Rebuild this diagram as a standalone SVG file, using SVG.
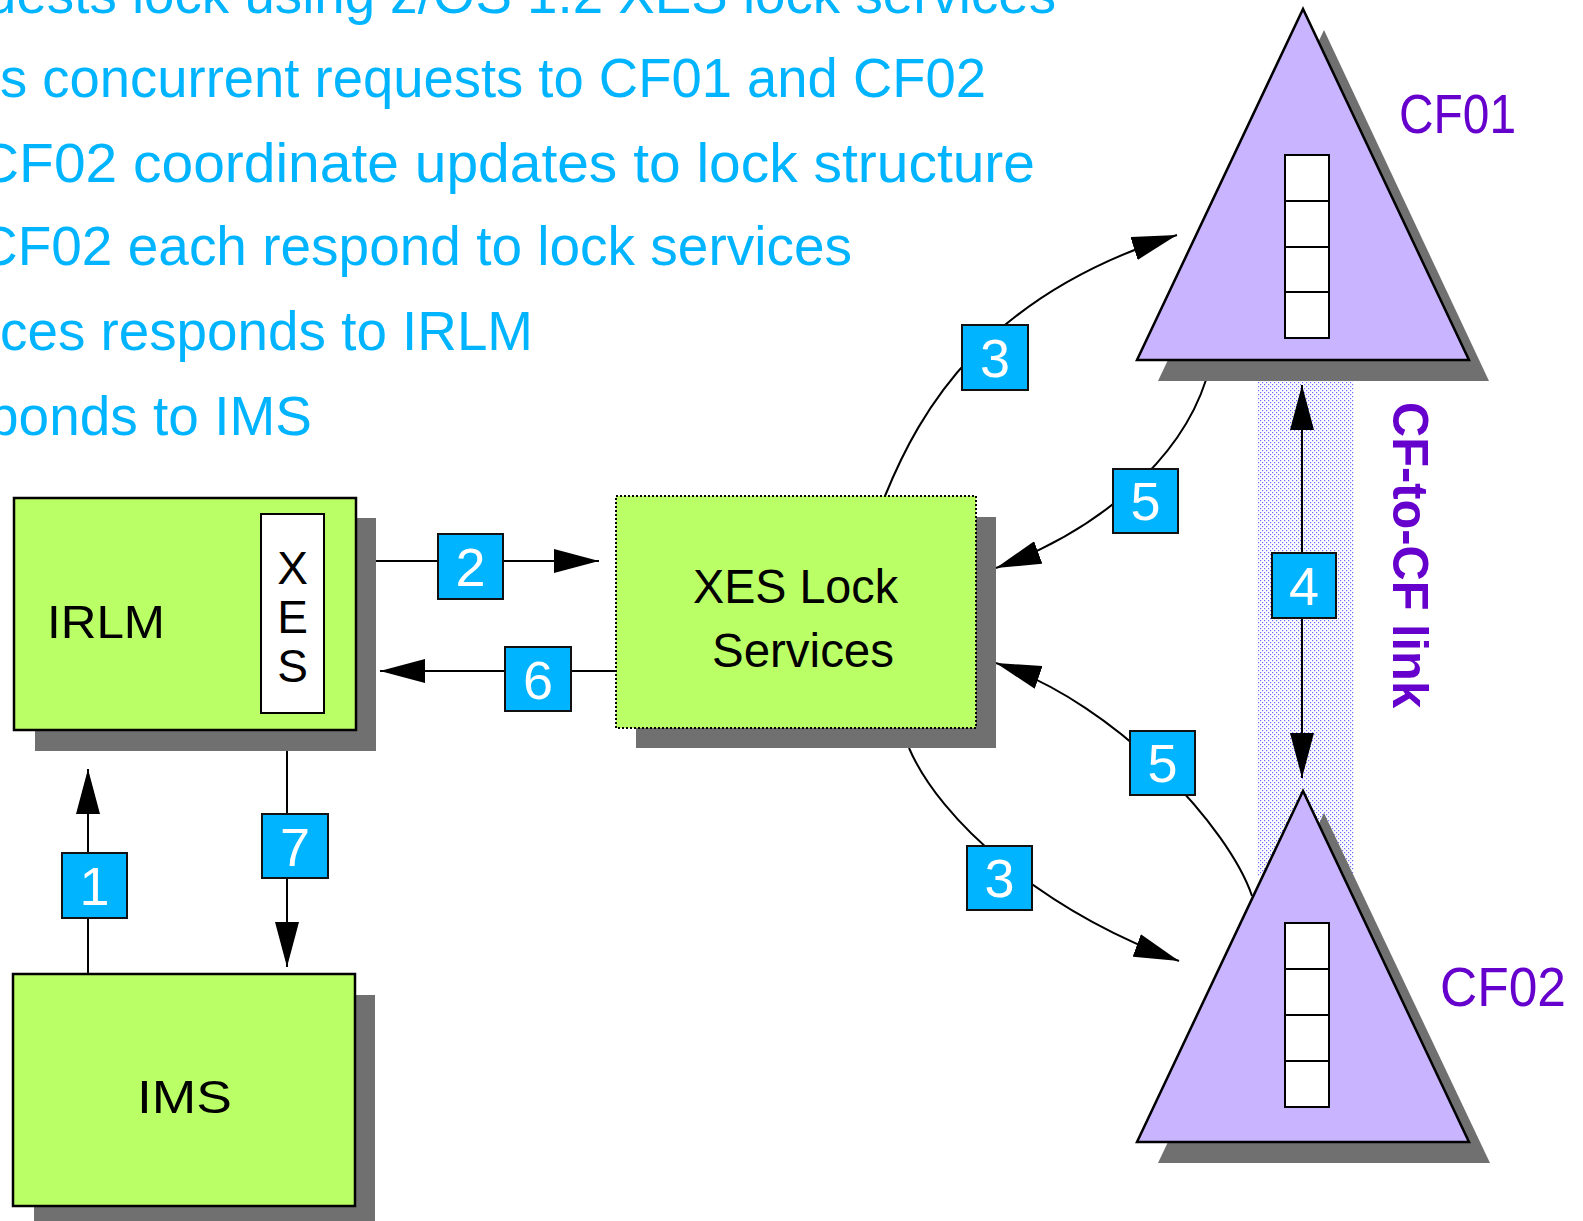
<svg xmlns="http://www.w3.org/2000/svg" width="1583" height="1221" viewBox="0 0 1583 1221">
<defs>
<style>
.note{font-family:"Liberation Sans",Arial,sans-serif;font-size:56px;fill:#00b4ff}
.lbl{font-family:"Liberation Sans",Arial,sans-serif;fill:#000}
.cf{font-family:"Liberation Sans",Arial,sans-serif;font-size:56px;fill:#6600cc}
.num{font-family:"Liberation Sans",Arial,sans-serif;font-size:54px;fill:#fff;text-anchor:middle}
.xes{font-family:"Liberation Sans",Arial,sans-serif;font-size:46px;fill:#000;text-anchor:middle}
.box{fill:#bbff66;stroke:#000;stroke-width:2.5}
.shadow{fill:#707070}
.tri{fill:#c8b4ff;stroke:#000;stroke-width:2.5;stroke-linejoin:miter}
.cell{fill:#fff;stroke:#000;stroke-width:2}
.tag{fill:#00b4ff;stroke:#111;stroke-width:2}
.wire{fill:none;stroke:#000;stroke-width:2}
</style>
<marker id="ah" markerUnits="userSpaceOnUse" markerWidth="46" markerHeight="24" refX="45" refY="12" orient="auto-start-reverse">
<path d="M0,0 L45,12 L0,24 z" fill="#000"/>
</marker>
<pattern id="dots" width="4" height="4" patternUnits="userSpaceOnUse">
<rect width="4" height="4" fill="#fff"/>
<rect x="0" y="0" width="1.2" height="1.2" fill="#6a6aff"/>
<rect x="2" y="2" width="1.2" height="1.2" fill="#6a6aff"/>
</pattern>
</defs>
<rect width="1583" height="1221" fill="#fff"/>

<g id="notes">
<text class="note" x="-14" y="13" textLength="1070" lengthAdjust="spacingAndGlyphs">uests lock using z/OS 1.2 XES lock services</text>
<text class="note" x="0" y="97" textLength="986" lengthAdjust="spacingAndGlyphs">s concurrent requests to CF01 and CF02</text>
<text class="note" x="-22" y="182" textLength="1057" lengthAdjust="spacingAndGlyphs">CF02 coordinate updates to lock structure</text>
<text class="note" x="-22" y="265" textLength="874" lengthAdjust="spacingAndGlyphs">CF02 each respond to lock services</text>
<text class="note" x="0" y="350" textLength="533" lengthAdjust="spacingAndGlyphs">ces responds to IRLM</text>
<text class="note" x="-12" y="435" textLength="324" lengthAdjust="spacingAndGlyphs">ponds to IMS</text>
</g>

<g id="cf-link">
<rect x="1257" y="380" width="97" height="496" fill="url(#dots)"/>
<text class="cf" font-weight="bold" font-size="50" x="1393" y="402" transform="rotate(90 1393 402)" textLength="306" lengthAdjust="spacingAndGlyphs" dy="0" style="font-size:50px">CF-to-CF link</text>
</g>

<g id="connectors">
<path class="wire" d="M88 974 L88 769" marker-end="url(#ah)"/>
<path class="wire" d="M287 750 L287 967" marker-end="url(#ah)"/>
<path class="wire" d="M373 561 L599 561" marker-end="url(#ah)"/>
<path class="wire" d="M616 671 L380 671" marker-end="url(#ah)"/>
<path class="wire" d="M885 496 C920 410 985 295 1177 235" marker-end="url(#ah)"/>
<path class="wire" d="M909 748 C940 820 1040 910 1179 961" marker-end="url(#ah)"/>
<path class="wire" d="M1206 380 C1180 460 1100 530 996 568" marker-end="url(#ah)"/>
<path class="wire" d="M1252 896 C1230 830 1120 705 996 663" marker-end="url(#ah)"/>
<path class="wire" d="M1302 385 L1302 778" marker-start="url(#ah)" marker-end="url(#ah)"/>
<rect class="tag" x="62" y="853" width="65" height="65"/><text class="num" x="94.5" y="905">1</text>
<rect class="tag" x="262" y="814" width="66" height="64"/><text class="num" x="295" y="866">7</text>
<rect class="tag" x="438" y="534" width="65" height="65"/><text class="num" x="470.5" y="586">2</text>
<rect class="tag" x="505" y="647" width="66" height="64"/><text class="num" x="538" y="699">6</text>
<rect class="tag" x="962" y="325" width="66" height="65"/><text class="num" x="995" y="377">3</text>
<rect class="tag" x="967" y="846" width="65" height="64"/><text class="num" x="999.5" y="897">3</text>
<rect class="tag" x="1113" y="469" width="65" height="64"/><text class="num" x="1145.5" y="520">5</text>
<rect class="tag" x="1130" y="731" width="65" height="64"/><text class="num" x="1162.5" y="782">5</text>
<rect class="tag" x="1272" y="553" width="64" height="65"/><text class="num" x="1304" y="605">4</text>
</g>

<g id="irlm">
<rect class="shadow" x="35" y="518" width="341" height="233"/>
<rect class="box" x="14" y="498" width="342" height="232"/>
<rect x="261" y="514" width="63" height="199" fill="#fff" stroke="#000" stroke-width="2"/>
<text class="xes" x="292.5" y="584">X</text>
<text class="xes" x="292.5" y="633">E</text>
<text class="xes" x="292.5" y="682">S</text>
<text class="lbl" x="47" y="638" font-size="47" textLength="118" lengthAdjust="spacingAndGlyphs">IRLM</text>
</g>

<g id="xes-lock">
<rect class="shadow" x="636" y="517" width="360" height="231"/>
<rect x="616" y="496" width="360" height="232" fill="#bbff66" stroke="#000" stroke-width="2" stroke-dasharray="2 2"/>
<text class="lbl" x="693" y="603" font-size="48" textLength="205" lengthAdjust="spacingAndGlyphs">XES Lock</text>
<text class="lbl" x="712" y="667" font-size="48" textLength="182" lengthAdjust="spacingAndGlyphs">Services</text>
</g>

<g id="ims">
<rect class="shadow" x="34" y="995" width="341" height="226"/>
<rect class="box" x="13" y="974" width="342" height="232"/>
<text class="lbl" x="137" y="1113" font-size="47" textLength="95" lengthAdjust="spacingAndGlyphs">IMS</text>
</g>

<g id="cf01">
<polygon class="shadow" points="1324,30 1158,381 1489,381"/>
<polygon class="tri" points="1303,9 1137,360 1469,360"/>
<rect class="cell" x="1285" y="155" width="44" height="46"/>
<rect class="cell" x="1285" y="201" width="44" height="46"/>
<rect class="cell" x="1285" y="247" width="44" height="45"/>
<rect class="cell" x="1285" y="292" width="44" height="46"/>
<text class="cf" x="1399" y="133" textLength="117" lengthAdjust="spacingAndGlyphs">CF01</text>
</g>

<g id="cf02">
<polygon class="shadow" points="1324,813 1158,1163 1490,1163"/>
<polygon class="tri" points="1303,791 1137,1142 1469,1142"/>
<rect class="cell" x="1285" y="923" width="44" height="46"/>
<rect class="cell" x="1285" y="969" width="44" height="46"/>
<rect class="cell" x="1285" y="1015" width="44" height="46"/>
<rect class="cell" x="1285" y="1061" width="44" height="46"/>
<text class="cf" x="1440" y="1006" textLength="126" lengthAdjust="spacingAndGlyphs">CF02</text>
</g>
</svg>
